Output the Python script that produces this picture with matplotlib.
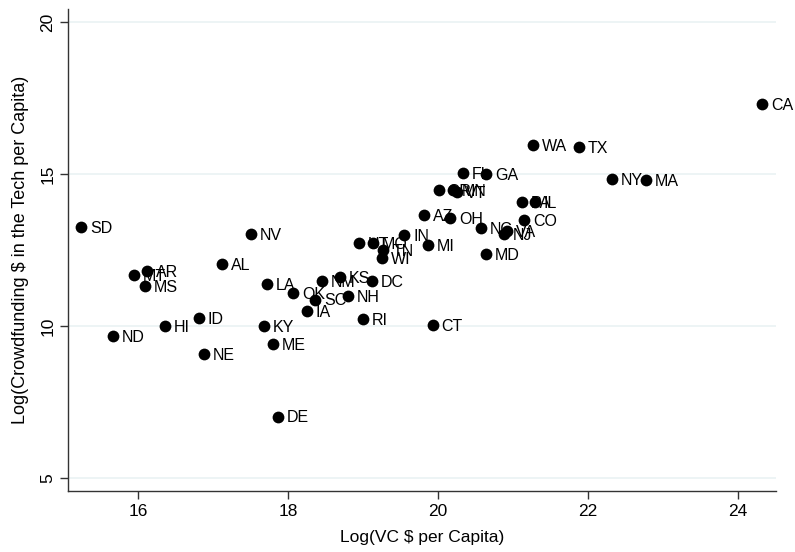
import matplotlib
matplotlib.use("Agg")
import matplotlib.pyplot as plt

states = ["SD","NV","AL","MT","AR","MS","LA","OK","ID","HI","ND","NE","KY","ME","DE",
          "IA","SC","NM","KS","DC","NH","RI","CT","UT","MO","TN","WI","IN","MI","AZ",
          "OH","NC","VA","NJ","CO","MD","PA","IL","OR","MN","VT","FL","GA","WA","TX",
          "NY","MA","CA"]
log_vc = [15.24,17.51,17.12,15.95,16.12,16.09,17.72,18.07,16.81,16.36,15.67,16.88,17.68,17.80,17.87,
          18.25,18.36,18.45,18.69,19.12,18.80,19.00,19.93,18.95,19.13,19.27,19.25,19.55,19.87,19.81,
          20.16,20.57,20.92,20.88,21.15,20.64,21.12,21.29,20.01,20.20,20.25,20.33,20.64,21.27,21.88,
          22.32,22.77,24.32]
log_cf = [13.26,13.03,12.04,11.68,11.81,11.32,11.38,11.09,10.26,10.00,9.67,9.08,10.00,9.41,7.01,
          10.49,10.86,11.48,11.61,11.48,10.99,10.23,10.03,12.73,12.73,12.50,12.24,12.99,12.66,13.65,
          13.55,13.22,13.13,13.03,13.49,12.37,14.08,14.08,14.47,14.47,14.41,15.03,15.00,15.95,15.89,
          14.84,14.80,17.30]

x_ticks = [16, 18, 20, 22, 24]
y_ticks = [5, 10, 15, 20]

plt.rcParams['font.family'] = ['Liberation Sans', 'DejaVu Sans']

fig = plt.figure(figsize=(7.95, 5.52), dpi=100)
ax = fig.add_axes([0.0855, 0.1105, 0.8905, 0.873])

for yv in y_ticks:
    ax.axhline(yv, color='#eaf2f3', lw=1.2, zorder=0)

ax.scatter(log_vc, log_cf, s=72, color='black', zorder=3, linewidths=0)
for s, xv, yv in zip(states, log_vc, log_cf):
    ax.annotate(s, (xv, yv), xytext=(6.5, -0.8), textcoords='offset points',
                va='center', ha='left', fontsize=11.5, color='black', zorder=4)

ax.set_xlim(15.067, 24.507)
ax.set_ylim(4.57, 20.43)
ax.set_xticks(x_ticks)
ax.set_yticks(y_ticks)
ax.tick_params(axis='both', direction='out', length=6, width=1, labelsize=12.5, colors='#333333',
               labelcolor='black', pad=3)
for lbl in ax.get_yticklabels():
    lbl.set_rotation(90)
    lbl.set_va('center')

for side in ['top', 'right']:
    ax.spines[side].set_visible(False)
for side in ['left', 'bottom']:
    ax.spines[side].set_color('#333333')
    ax.spines[side].set_linewidth(1)

ax.set_xlabel("Log(VC \\$ per Capita)", fontsize=12.5, labelpad=8)
ax.set_ylabel("Log(Crowdfunding \\$ in the Tech per Capita)", fontsize=13, labelpad=8)

fig.savefig("out.png", dpi=100, facecolor='white')
